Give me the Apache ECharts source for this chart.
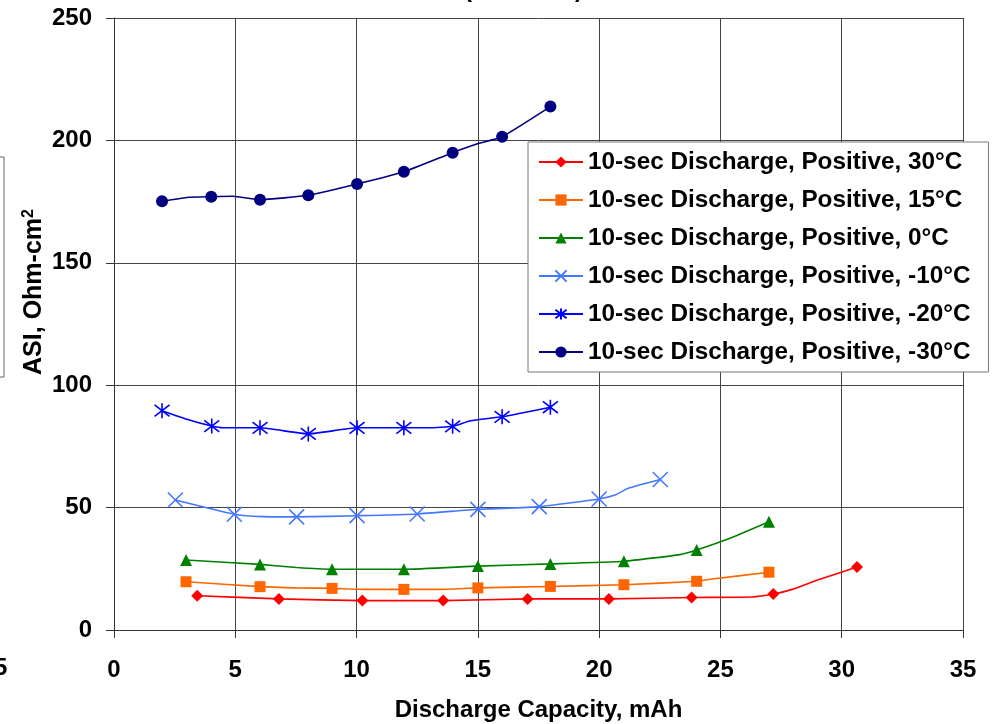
<!DOCTYPE html>
<html>
<head>
<meta charset="utf-8">
<script src="https://cdn.jsdelivr.net/npm/echarts@6/dist/echarts.min.js"></script>
<style>html,body{margin:0;padding:0;background:#fff}#c{width:998px;height:724px}</style>
</head>
<body>
<div id="c"></div>
<script>
// Each point: [capacity mAh, ASI ohm-cm2, hasMarker(1) or curve point(0)]
const seriesNames = [
  '10-sec Discharge, Positive, 30°C',
  '10-sec Discharge, Positive, 15°C',
  '10-sec Discharge, Positive, 0°C',
  '10-sec Discharge, Positive, -10°C',
  '10-sec Discharge, Positive, -20°C',
  '10-sec Discharge, Positive, -30°C'
];
const pos30 = [[3.43,14.0,1],[6.80,12.7,1],[10.24,12.0,1],[13.57,12.0,1],[17.05,12.7,1],[20.40,12.7,1],[23.81,13.3,1],[26.3,13.5,0],[27.18,14.7,1],[28.0,16.7,0],[29.0,20.4,0],[30.63,25.7,1]];
const pos15 = [[2.97,19.7,1],[6.02,17.7,1],[7.53,17.2,0],[8.99,17.0,1],[10.4,16.6,0],[11.95,16.6,1],[13.4,16.6,0],[15.0,17.2,1],[17.99,17.8,1],[21.02,18.5,1],[24.02,19.9,1],[24.57,20.7,0],[27.0,23.6,1]];
const pos0 = [[2.97,28.6,1],[6.02,26.8,1],[7.53,25.5,0],[8.99,24.8,1],[11.95,24.8,1],[15.0,26.1,1],[17.99,27.0,1],[21.02,28.1,1],[23.33,30.8,0],[24.02,32.7,1],[25.5,37.9,0],[27.0,44.2,1]];
const neg10 = [[2.53,53.1,1],[4.96,47.3,1],[6.15,46.3,0],[7.53,46.2,1],[10.02,46.7,1],[12.5,47.4,1],[15.0,49.3,1],[17.53,50.4,1],[20.0,53.5,1],[20.65,55.1,0],[21.2,57.9,0],[22.52,61.5,1]];
const neg20 = [[1.98,89.6,1],[3.0,86.1,0],[4.03,83.3,1],[4.5,82.6,0],[6.02,82.6,1],[8.01,80.1,1],[10.02,82.6,1],[11.95,82.6,1],[13.0,82.6,0],[13.96,83.2,1],[14.7,85.5,0],[16.0,87.1,1],[17.99,91.0,1]];
const neg30 = [[1.98,175.1,1],[3.0,176.7,0],[4.01,177.0,1],[4.9,177.2,0],[6.02,175.8,1],[8.01,177.6,1],[10.02,182.2,1],[11.95,187.2,1],[13.96,195.0,1],[14.95,198.5,0],[16.0,201.5,1],[17.99,213.8,1]];
const xTicks = {min:0, max:35, interval:5};
const yTicks = {min:0, max:250, interval:50};

const allData = [pos30, pos15, pos0, neg10, neg20, neg30];
const colors = ['#FF0000','#FF6600','#008000','#4477FF','#0000FF','#000080'];
const symbols = ['diamond','rect','triangle',
  'path://M0,0L10,10M10,0L0,10',
  'path://M0,0L10,10M10,0L0,10M5,-1.5L5,11.5',
  'circle'];
const sizes = [12,11,12,15,15,12];

const series = allData.map((arr,i)=>({
  name: seriesNames[i],
  type:'line',
  symbol: symbols[i],
  symbolSize: sizes[i],
  showAllSymbol: true,
  smooth: 0.15,
  lineStyle:{color:colors[i], width:1.6},
  itemStyle:{color: (i===3||i===4)? 'rgba(0,0,0,0)' : colors[i], borderColor: colors[i], borderWidth: (i===3||i===4)?1.6:0},
  emphasis:{disabled:true},
  data: arr.map(p=>({value:[p[0],p[1]], symbol: p[2]? symbols[i] : 'none'}))
}));

const chart = echarts.init(document.getElementById('c'), null, {renderer:'canvas'});
const font = 'Liberation Sans, Arial, sans-serif';
const FS = 24;
chart.setOption({
  animation:false,
  backgroundColor:'#fff',
  textStyle:{fontFamily:font},
  grid:{left:114, right:35, top:18, bottom:94, outerBoundsMode:'none', containLabel:false},
  legend:{
    orient:'vertical', left:528, top:142,
    padding:[8,18,8,10],
    itemWidth:44, itemHeight:14, itemGap:14,
    backgroundColor:'#fff', borderColor:'#777', borderWidth:1,
    textStyle:{fontSize:24.3, fontWeight:'bold', color:'#000', fontFamily:font},
    data: seriesNames
  },
  xAxis:{
    type:'value', min:xTicks.min, max:xTicks.max, interval:xTicks.interval,
    name:'Discharge Capacity, mAh', nameLocation:'middle', nameGap:68,
    nameTextStyle:{fontSize:FS, fontWeight:'bold', color:'#000'},
    axisLine:{show:true, onZero:false, lineStyle:{color:'#333', width:1}},
    axisTick:{show:true, length:8, lineStyle:{color:'#333'}},
    axisLabel:{fontSize:FS, fontWeight:'bold', color:'#000', margin:28},
    splitLine:{show:true, lineStyle:{color:'#444', width:1}}
  },
  yAxis:{
    type:'value', min:yTicks.min, max:yTicks.max, interval:yTicks.interval,
    axisLine:{show:true, lineStyle:{color:'#333', width:1}},
    axisTick:{show:true, length:8, lineStyle:{color:'#333'}},
    axisLabel:{fontSize:FS, fontWeight:'bold', color:'#000', margin:22},
    splitLine:{show:true, lineStyle:{color:'#444', width:1}}
  },
  graphic:[
    {type:'text', x:34, y:292, rotation:Math.PI/2, style:{
      text:'ASI, Ohm-cm{s|2}', rich:{s:{fontSize:16, fontWeight:'bold', verticalAlign:'top', padding:[0,0,10,0]}},
      font:'bold 25px Liberation Sans, Arial, sans-serif', fill:'#000', align:'center', verticalAlign:'middle'}},
    {type:'rect', shape:{x:-20, y:157, width:24, height:220}, style:{fill:'none', stroke:'#666', lineWidth:1}},
    {type:'text', x:-6, y:668, style:{text:'5', font:'bold 24px Liberation Sans, Arial, sans-serif', fill:'#000', verticalAlign:'middle'}},
    {type:'text', x:464, y:-10, style:{text:'(', font:'bold 24px Liberation Sans, Arial, sans-serif', fill:'#000', verticalAlign:'middle'}},
    {type:'text', x:575, y:-10, style:{text:')', font:'bold 24px Liberation Sans, Arial, sans-serif', fill:'#000', verticalAlign:'middle'}}
  ],
  series: series
});
</script>
</body>
</html>
